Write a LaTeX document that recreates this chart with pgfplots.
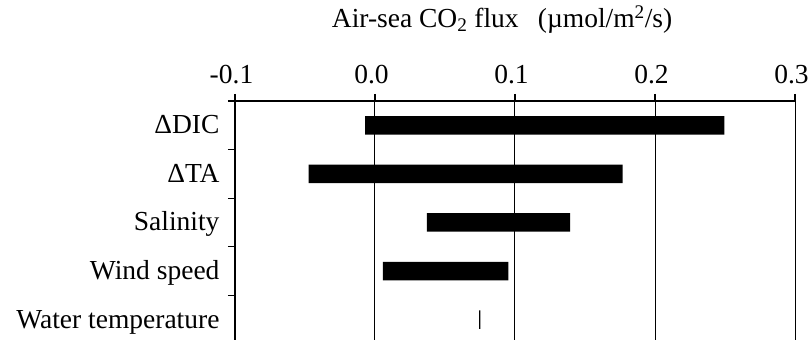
\documentclass[border=0pt]{standalone}
\usepackage{fontspec}
\setmainfont{Liberation Serif}
\usepackage{pgfplots}
\pgfplotsset{compat=1.18}
\newcommand\fsz{\fontsize{27.5bp}{32bp}\selectfont}
\begin{document}
\begin{tikzpicture}
\begin{axis}[
  scale only axis, width=560bp, height=239bp,
  xbar stacked, stack negative=on previous, bar width=18.5bp,
  xmin=-0.1, xmax=0.3, ymin=-0.42, ymax=4.5,
  axis x line*=top, axis y line*=left,
  axis line style={line width=1.3bp, black, -},
  xtick={-0.1,0,0.1,0.2,0.3}, xticklabels={-0.1,0.0,0.1,0.2,0.3},
  minor xtick={-0.1,0,0.1,0.2,0.3},
  ytick={0,1,2,3,4},
  yticklabels={Water temperature,Wind speed,Salinity,ΔTA\hspace{7bp},ΔDIC\hspace{7bp}},
  minor ytick={0.5,1.5,2.5,3.5,4.5},
  tick align=outside,
  major tick length=0pt, minor tick length=7bp,
  tick style={black, line width=1.3bp},
  xmajorgrids, major grid style={black, line width=1bp},
  xticklabel style={font=\fsz, yshift=14bp, xshift=-3.5bp},
  yticklabel style={font=\fsz, anchor=east, xshift=-12bp, text height=17bp, text depth=0pt},
  title={Air-sea CO\textsubscript{2} flux\hspace{0.7em}(µmol/m\textsuperscript{2}/s)},
  title style={at={(axis description cs:0.477,1.2845)}, anchor=base, font=\fsz},
]
\addplot[draw=none, fill=none] coordinates {(-0.0071,4) (-0.0474,3) (0.0371,2) (0.0057,1) (0.0744,0)};
\addplot[fill=black, draw=none] coordinates {(0.2566,4) (0.2243,3) (0.1022,2) (0.0895,1) (0.0008,0)};
\end{axis}
\pgfresetboundingbox
\path[use as bounding box] (-235bp,0) rectangle (573bp,340bp);
\end{tikzpicture}
\end{document}
